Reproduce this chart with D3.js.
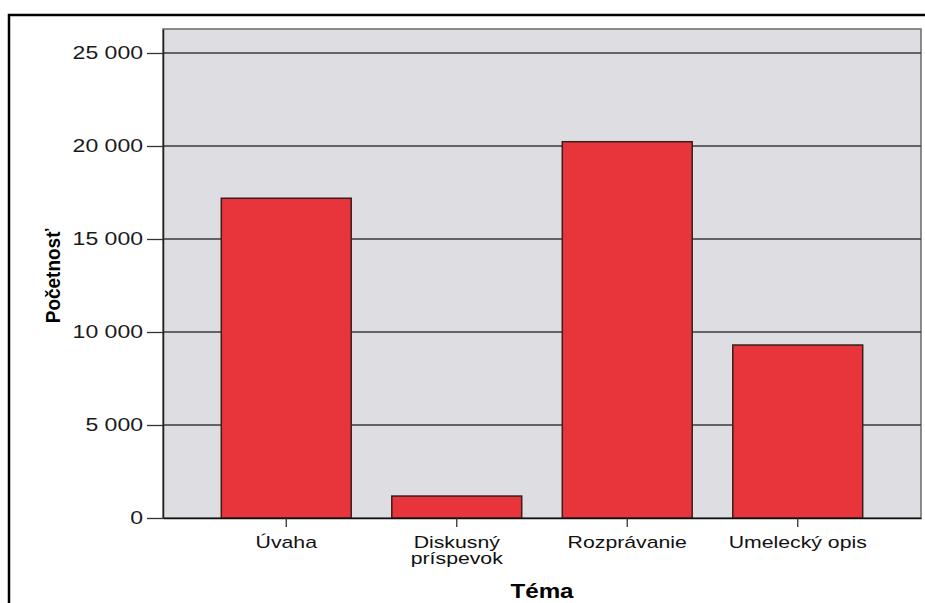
<!DOCTYPE html>
<html>
<head>
<meta charset="utf-8">
<script src="https://cdn.jsdelivr.net/npm/d3@7"></script>
<style>
  html, body { margin: 0; padding: 0; background: #ffffff; }
  svg { display: block; }
  text { font-family: "Liberation Sans", Arial, sans-serif; }
</style>
</head>
<body>
<script>
// ---- Data ----
const categories = ["Úvaha", "Diskusný\npríspevok", "Rozprávanie", "Umelecký opis"];
const values = [17190, 1180, 20230, 9300];
const yTicks = [0, 5000, 10000, 15000, 20000, 25000];
const yMax = 26290;
const xTitle = "Téma";
const yTitle = "Početnosť";

// ---- Layout ----
const W = 925, H = 603;
const plot = { left: 163, right: 921, top: 29, bottom: 518 };
const sx = 1.28; // horizontal stretch of the reference text

const fmt = d3.formatLocale({ decimal: ",", thousands: "\u00a0", grouping: [3], currency: ["", ""] }).format(",");

const svg = d3.select("body").append("svg").attr("width", W).attr("height", H);

// outer frame (top + left edges visible)
svg.append("path")
  .attr("d", `M9,${H} L9,15 L${W},15`)
  .attr("fill", "none").attr("stroke", "#000").attr("stroke-width", 2.5);

const x = d3.scaleBand().domain(categories).range([plot.left, plot.right])
  .paddingInner(0.238).paddingOuter(0.342);
const y = d3.scaleLinear().domain([0, yMax]).range([plot.bottom, plot.top]);

// plot background
svg.append("rect")
  .attr("x", plot.left).attr("y", plot.top)
  .attr("width", plot.right - plot.left).attr("height", plot.bottom - plot.top)
  .attr("fill", "#dddde2").attr("stroke", "#6a6a6a").attr("stroke-width", 1.5);

// gridlines
svg.append("g").selectAll("line").data(yTicks.filter(d => d > 0)).join("line")
  .attr("x1", plot.left).attr("x2", plot.right)
  .attr("y1", d => y(d)).attr("y2", d => y(d))
  .attr("stroke", "#3a3a3a").attr("stroke-width", 1.5);

// bars
svg.append("g").selectAll("rect").data(categories).join("rect")
  .attr("x", (d) => x(d))
  .attr("width", x.bandwidth())
  .attr("y", (d, i) => y(values[i]))
  .attr("height", (d, i) => y(0) - y(values[i]))
  .attr("fill", "#e8353c").attr("stroke", "#3a1d1d").attr("stroke-width", 1.5);

// left axis
const gy = svg.append("g").attr("transform", `translate(${plot.left},0)`)
  .call(d3.axisLeft(y).tickValues(yTicks).tickFormat(fmt).tickSize(16).tickSizeOuter(0).tickPadding(4));
gy.select(".domain").attr("stroke", "#222").attr("stroke-width", 1.5);
gy.selectAll(".tick line").attr("stroke", "#333").attr("stroke-width", 1.3);
gy.selectAll(".tick text")
  .attr("x", null)
  .attr("transform", `translate(-20,0) scale(${sx},1)`)
  .attr("text-anchor", "end")
  .attr("font-size", 18).attr("fill", "#1a1a1a")
  .style("font-family", '"Liberation Sans", Arial, sans-serif');

// bottom axis
const gx = svg.append("g").attr("transform", `translate(0,${plot.bottom})`)
  .call(d3.axisBottom(x).tickSize(9).tickSizeOuter(0).tickFormat(""));
gx.select(".domain").attr("stroke", "#111").attr("stroke-width", 1.5);
gx.selectAll(".tick line").attr("stroke", "#333").attr("stroke-width", 1.3);
gx.selectAll(".tick text").remove();
gx.selectAll(".tick").each(function (d) {
  const t = d3.select(this).append("text")
    .attr("transform", `translate(0,30) scale(1.25,1)`)
    .attr("text-anchor", "middle")
    .attr("font-size", 17).attr("fill", "#111");
  d.split("\n").forEach((line, i) => {
    t.append("tspan").attr("x", 0).attr("dy", i === 0 ? 0 : 16).text(line);
  });
});

// axis titles
svg.append("text")
  .attr("transform", `translate(${(plot.left + plot.right) / 2},598) scale(1.15,1)`)
  .attr("text-anchor", "middle")
  .attr("font-size", 21).attr("font-weight", "bold").attr("fill", "#000")
  .text(xTitle);

svg.append("text")
  .attr("transform", `translate(60,276) rotate(-90) scale(1,1.05)`)
  .attr("text-anchor", "middle")
  .attr("font-size", 19).attr("font-weight", "bold").attr("fill", "#000")
  .text(yTitle);
</script>
</body>
</html>
